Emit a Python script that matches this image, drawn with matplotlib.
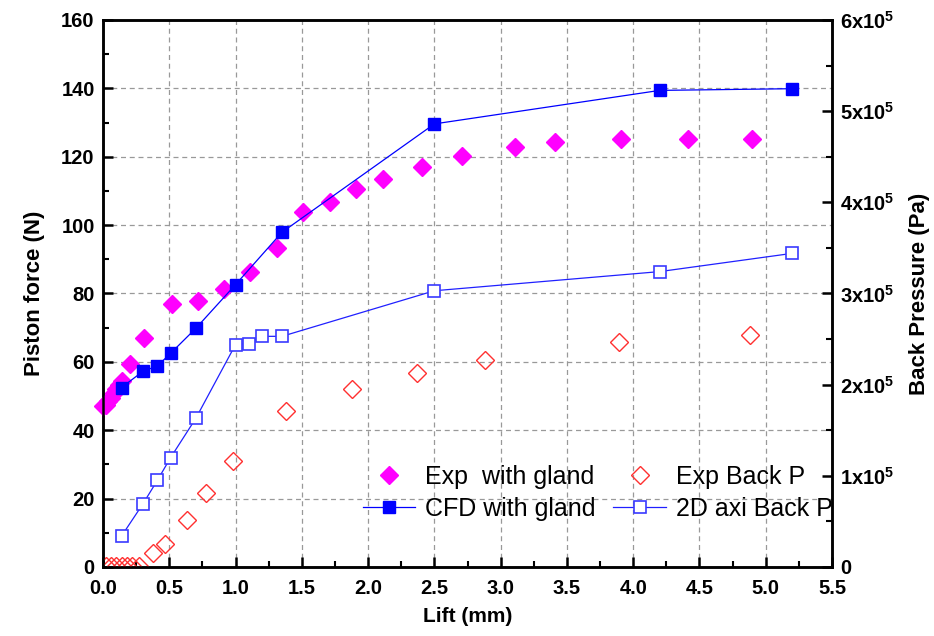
import matplotlib
matplotlib.use("Agg")
import matplotlib.pyplot as plt
from matplotlib.ticker import MultipleLocator, FuncFormatter

plt.rcParams['font.family'] = ['Liberation Sans', 'DejaVu Sans']
plt.rcParams['mathtext.default'] = 'regular'

# Exp with gland (piston force, N)
exp_x = [0.0, 0.02, 0.04, 0.06, 0.08, 0.10, 0.12, 0.14, 0.20, 0.31, 0.52, 0.72,
         0.91, 1.11, 1.31, 1.51, 1.71, 1.91, 2.11, 2.41, 2.71, 3.11, 3.41, 3.91, 4.41, 4.90]
exp_y = [47.0, 47.5, 48.5, 49.5, 50.8, 52.0, 53.2, 54.5, 59.5, 67.0, 77.0, 77.8,
         81.4, 86.2, 93.3, 103.7, 106.8, 110.7, 113.4, 117.0, 120.3, 122.9, 124.2, 125.2, 125.2, 125.2]

# CFD with gland (piston force, N)
cfd_x = [0.14, 0.30, 0.41, 0.51, 0.70, 1.0, 1.35, 2.5, 4.2, 5.2]
cfd_y = [52.5, 57.2, 58.8, 62.5, 69.8, 82.6, 97.9, 129.6, 139.4, 139.9]

# Exp Back P (Pa)
ebp_x = [0.02, 0.06, 0.10, 0.14, 0.18, 0.22, 0.27, 0.38, 0.47, 0.63, 0.78, 0.98,
         1.38, 1.88, 2.37, 2.88, 3.89, 4.88]
ebp_y = [1.5e3, 1.5e3, 1.5e3, 1.5e3, 1.5e3, 1.5e3, 1.5e3, 1.55e4, 2.55e4, 5.1e4, 8.1e4, 1.16e5,
         1.71e5, 1.95e5, 2.13e5, 2.27e5, 2.47e5, 2.55e5]

# 2D axi Back P (Pa)
axi_x = [0.14, 0.30, 0.41, 0.51, 0.70, 1.0, 1.10, 1.20, 1.35, 2.5, 4.2, 5.2]
axi_y = [3.4e4, 6.9e4, 9.5e4, 1.2e5, 1.63e5, 2.44e5, 2.45e5, 2.53e5, 2.53e5, 3.03e5, 3.24e5, 3.44e5]

fig = plt.figure(figsize=(9.34, 6.36), dpi=100)
ax = fig.add_axes([0.1103, 0.1085, 0.7805, 0.8601])
ax2 = ax.twinx()

h1, = ax.plot(exp_x, exp_y, linestyle='none', marker='D', ms=9.5, color='#ff00ff',
              mec='#ff00ff', label='Exp  with gland', clip_on=False, zorder=3)
h2, = ax.plot(cfd_x, cfd_y, '-', lw=0.9, marker='s', ms=8.5, color='#0000ff',
              label='CFD with gland', zorder=4)
h3, = ax2.plot(ebp_x, ebp_y, linestyle='none', marker='D', ms=9.5, mfc='none',
               mec='#ff3030', mew=1.0, label='Exp Back P')
h4, = ax2.plot(axi_x, axi_y, '-', lw=0.9, color='#2020ff', marker='s', ms=8,
               mfc='white', mec='#3a3aff', mew=1.2, label='2D axi Back P')

ax.set_xlim(0, 5.5)
ax.set_ylim(0, 160)
ax2.set_ylim(0, 6e5)

ax.xaxis.set_major_locator(MultipleLocator(0.5))
ax.xaxis.set_minor_locator(MultipleLocator(0.25))
ax.yaxis.set_major_locator(MultipleLocator(20))
ax.yaxis.set_minor_locator(MultipleLocator(10))
ax2.yaxis.set_major_locator(MultipleLocator(1e5))
ax2.yaxis.set_minor_locator(MultipleLocator(5e4))
ax.xaxis.set_major_formatter(FuncFormatter(lambda v, p: f'{v:.1f}'))


def pa_fmt(v, p):
    n = int(round(v / 1e5))
    return '0' if n == 0 else f'{n}x10$^{{5}}$'


ax2.yaxis.set_major_formatter(FuncFormatter(pa_fmt))

ax.grid(True, which='major', linestyle=(0, (4, 3)), color='#999999', lw=0.9)
ax.set_axisbelow(True)

for a in (ax, ax2):
    for s in a.spines.values():
        s.set_linewidth(1.8)
ax.tick_params(which='major', direction='in', length=7, width=1.8, labelsize=14.5, pad=6)
ax.tick_params(which='minor', direction='in', length=4, width=1.5)
ax.tick_params(axis='x', which='major', pad=9)
ax.tick_params(axis='x', which='both', top=False)
ax2.tick_params(which='major', direction='in', length=7, width=1.8, labelsize=14.5, pad=6)
ax2.tick_params(which='minor', direction='in', length=4, width=1.5)
for lab in ax.get_xticklabels() + ax.get_yticklabels() + ax2.get_yticklabels():
    lab.set_fontweight('bold')

ax.set_xlabel('Lift (mm)', fontsize=15, fontweight='bold', labelpad=6)
ax.set_ylabel('Piston force (N)', fontsize=16, fontweight='bold', labelpad=12)
ax2.set_ylabel('Back Pressure (Pa)', fontsize=16, fontweight='bold', labelpad=10)

ax2.legend([h1, h2, h3, h4], [h.get_label() for h in (h1, h2, h3, h4)], ncol=2,
           frameon=False, fontsize=18, loc='lower right', bbox_to_anchor=(1.032, 0.043),
           handlelength=2.1, columnspacing=0.7, labelspacing=0.33, handletextpad=0.4)

fig.savefig('out.png', dpi=100)
